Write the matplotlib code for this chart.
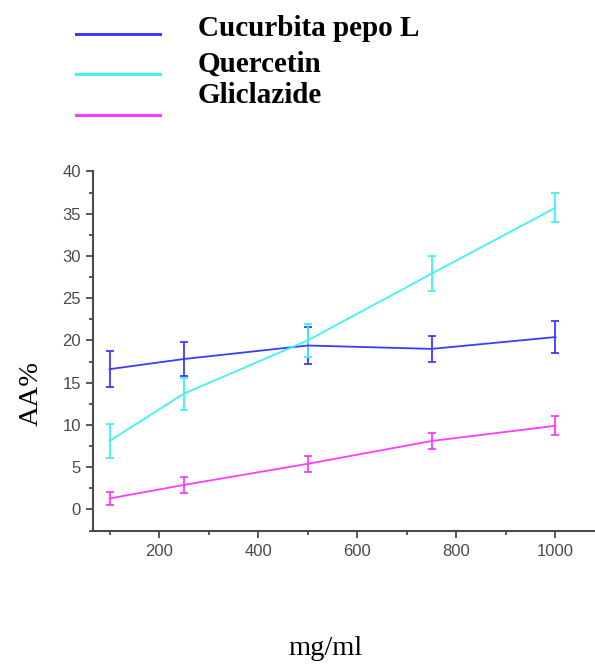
import matplotlib
matplotlib.use("Agg")
import matplotlib.pyplot as plt
from matplotlib.lines import Line2D
from matplotlib.ticker import MultipleLocator

# Data
conc = [100, 250, 500, 750, 1000]
series_names = ["Cucurbita pepo L", "Quercetin", "Gliclazide"]
cucurbita = [16.6, 17.8, 19.4, 19.0, 20.4]
cucurbita_err = [2.1, 2.0, 2.2, 1.5, 1.85]
quercetin = [8.1, 13.7, 20.0, 27.9, 35.7]
quercetin_err = [2.05, 1.9, 2.0, 2.05, 1.7]
gliclazide = [1.3, 2.9, 5.4, 8.1, 9.9]
gliclazide_err = [0.75, 0.95, 0.95, 0.9, 1.1]
colors = ["#3c3cff", "#40f2f2", "#ff3cff"]

W, H = 595, 666
fig = plt.figure(figsize=(W / 100, H / 100), dpi=100)
ax = fig.add_axes([93.3 / W, 1 - 531 / H, (W - 93.3) / W, (531 - 171) / H])

for vals, errs, c in zip([cucurbita, quercetin, gliclazide],
                         [cucurbita_err, quercetin_err, gliclazide_err], colors):
    ax.errorbar(conc, vals, yerr=errs, color=c, lw=1.3, elinewidth=1.3,
                capsize=2.6, capthick=1.3)

ax.set_xlim(67.3, 1079.8)
ax.set_ylim(-2.55, 40.05)
ax.xaxis.set_major_locator(MultipleLocator(200))
ax.xaxis.set_minor_locator(MultipleLocator(100))
ax.yaxis.set_major_locator(MultipleLocator(5))
ax.yaxis.set_minor_locator(MultipleLocator(2.5))

for s in ["top", "right"]:
    ax.spines[s].set_visible(False)
for s in ["left", "bottom"]:
    ax.spines[s].set_color("#4a4a4a")
    ax.spines[s].set_linewidth(1.5)

ax.tick_params(which="major", direction="out", length=5, width=1.3,
               color="#4a4a4a", labelcolor="#4a4a4a", labelsize=12, pad=4)
ax.tick_params(which="minor", direction="out", length=3, width=1.3,
               color="#4a4a4a")
for lab in ax.get_xticklabels() + ax.get_yticklabels():
    lab.set_fontfamily("Liberation Sans")
ax.set_xticks([200, 400, 600, 800, 1000])
ax.set_xticklabels(["200", "400", "600", "800", "1000"], family="Liberation Sans")
ax.set_yticks([0, 5, 10, 15, 20, 25, 30, 35, 40])
ax.set_yticklabels(["0", "5", "10", "15", "20", "25", "30", "35", "40"],
                   family="Liberation Sans")

# Axis labels
fig.text(31 / W, 1 - 394 / H, "AA%", rotation=90, ha="center", va="center",
         family="Liberation Serif", fontsize=20.5)
fig.text(325 / W, 1 - 655 / H, "mg/ml", ha="center", va="baseline",
         family="Liberation Serif", fontsize=20.5)

# Legend
line_y = [33.5, 74, 115]
text_y = [36, 72, 103]
for ly, ty, name, c in zip(line_y, text_y, series_names, colors):
    fig.add_artist(Line2D([76 / W, 160 / W], [1 - ly / H, 1 - ly / H],
                          color=c, lw=2.2, transform=fig.transFigure))
    fig.text(198 / W, 1 - ty / H, name, ha="left", va="baseline",
             family="Liberation Serif", fontweight="bold", fontsize=21)

fig.savefig("out.png", dpi=100)
